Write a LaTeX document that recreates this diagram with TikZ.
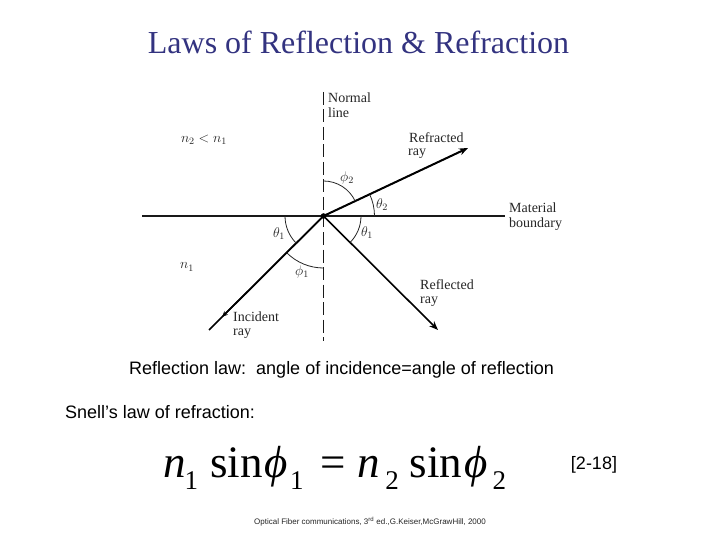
\RequirePackage{fix-cm}
\documentclass[tikz,border=0pt]{standalone}
\usepackage{fontspec}
\setmainfont{Liberation Serif}
\newfontfamily\arialf{Liberation Sans}
\usetikzlibrary{arrows.meta}
\definecolor{titleblue}{HTML}{333380}
\newcommand{\eqsub}[1]{\raisebox{-12pt}{\fontsize{27}{28}\selectfont #1}}
\tikzset{
  figlabel/.style={inner sep=0pt,anchor=base west,font=\fontsize{14}{15}\selectfont,text=black!85,align=left},
  mathlabel/.style={inner sep=0pt,font=\fontsize{14}{15}\selectfont,text=black!85},
  ray/.style={line width=2pt,-{Stealth[length=9pt,width=7pt]}},
  arcline/.style={line width=0.8pt,black!85},
  slidetext/.style={inner sep=0pt,anchor=west,font=\arialf\fontsize{18}{20}\selectfont},
}
\begin{document}
\begin{tikzpicture}[x=1pt,y=-1pt]
\useasboundingbox (0,0) rectangle (720,540);
\fill[white] (0,0) rectangle (720,540);
\node[inner sep=0pt,text=titleblue,font=\fontsize{32}{34}\selectfont] (title) at (358.5,42) {Laws of Reflection \& Refraction};
\coordinate (o) at (323.5,216);
\coordinate (bl) at (142,216);
\coordinate (br) at (505,216);
\coordinate (nt) at (323.5,92);
\coordinate (nb) at (323.5,341);
\coordinate (refr) at (468,148);
\coordinate (refl) at (438,330);
\coordinate (inc) at (209,330);
\coordinate (incm) at (222,317);
\draw[line width=2pt,black!90] (bl) -- (br);
\draw[line width=1.8pt,dash pattern=on 13pt off 4.5pt,black!90] (nt) -- (nb);
\draw[ray] (o) -- (refr);
\draw[line width=1.6pt,-{Stealth[length=9pt,width=7pt]}] (o) -- (refl);
\draw[line width=1.6pt] (o) -- (inc);
\draw[line width=1.6pt,-{Stealth[length=6pt,width=5pt]}] (o) -- (incm);
\fill (o) circle (2.8pt);
% angle arcs
\draw[arcline] (323.5,181) arc[start angle=-90,end angle=-25,radius=35];
\draw[arcline] (374.5,216) arc[start angle=0,end angle=-25,radius=51];
\draw[arcline] (361,216) arc[start angle=0,end angle=45,radius=37.5];
\draw[arcline] (285,216) arc[start angle=180,end angle=135,radius=38.5];
\draw[arcline] (323.5,268) arc[start angle=90,end angle=135,radius=52];
% labels
\node[figlabel] (lnormal) at (328,103) {Normal};
\node[figlabel] (lline) at (328,118) {line};
\node[figlabel] (lrefr) at (409,142.5) {Refracted};
\node[figlabel] (lrefr2) at (408,156) {ray};
\node[figlabel] (lmat) at (509,213) {Material};
\node[figlabel] (lmat2) at (509,227) {boundary};
\node[figlabel] (lrefl) at (420,289) {Reflected};
\node[figlabel] (lrefl2) at (420,303) {ray};
\node[figlabel] (linc) at (233,321) {Incident};
\node[figlabel] (linc2) at (233,335) {ray};
\node[mathlabel] (ln2) at (204,140) {$n_2<n_1$};
\node[mathlabel] (ln1) at (187,267) {$n_1$};
\node[mathlabel] (lp2) at (347,178) {$\phi_2$};
\node[mathlabel] (lt2) at (382,205) {$\theta_2$};
\node[mathlabel] (lt1r) at (367,233) {$\theta_1$};
\node[mathlabel] (lt1l) at (279,234) {$\theta_1$};
\node[mathlabel] (lp1) at (302,272) {$\phi_1$};
% slide text
\node[slidetext] (law1) at (129,370) {Reflection law:\ \ angle of incidence=angle of reflection};
\node[slidetext] (law2) at (65,412) {Snell’s law of refraction:};
\node[inner sep=0pt,anchor=base west,font=\fontsize{45}{48}\selectfont] (eq) at (163,477)
  {\itshape n\kern-1pt\eqsub{\upshape 1}\kern12pt\upshape sin\kern2pt\itshape ϕ\kern2pt\eqsub{\upshape 1}\kern17pt\upshape =\kern12pt\itshape n\kern5pt\eqsub{\upshape 2}\kern11pt\upshape sin\kern2pt\itshape ϕ\kern5pt\eqsub{\upshape 2}};
\node[inner sep=0pt,font=\arialf\fontsize{18}{20}\selectfont] (ref) at (594,465) {[2-18]};
\node[inner sep=0pt,font=\arialf\fontsize{8}{9}\selectfont,text=black!85] (src) at (370,522) {Optical Fiber communications, 3\textsuperscript{rd} ed.,G.Keiser,McGrawHill, 2000};
\end{tikzpicture}
\end{document}
